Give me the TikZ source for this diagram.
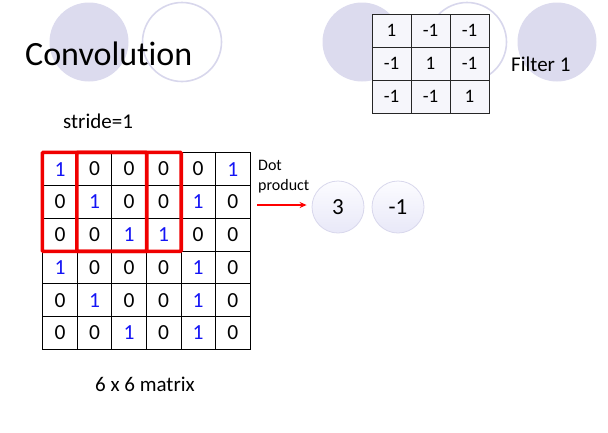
\documentclass[tikz,border=0pt]{standalone}
\usepackage{fontspec}
\setmainfont{Carlito}[Ligatures=NoCommon]
\usetikzlibrary{arrows.meta}
\definecolor{lav}{RGB}{220,219,238}
\definecolor{lavline}{RGB}{216,215,236}
\definecolor{filtfill}{RGB}{246,246,251}
\definecolor{blu}{RGB}{20,20,245}
\definecolor{redbox}{RGB}{240,0,0}
\tikzset{
  deco/.style={circle, minimum size=79pt, inner sep=0pt},
  decofill/.style={deco, fill=lav},
  decoring/.style={deco, draw=lavline, line width=1.6pt},
  gcell/.style={draw=black, line width=0.7pt, minimum width=34.55pt, minimum height=32.77pt, inner sep=0pt, font=\fontsize{21.5}{21.5}\selectfont},
  fcell/.style={draw=black!85, line width=0.7pt, fill=filtfill, minimum width=39pt, minimum height=33pt, inner sep=0pt, font=\fontsize{19}{19}\selectfont},
  outball/.style={circle, minimum size=52pt, inner sep=0pt, draw=lavline, line width=0.8pt,
     top color={rgb,255:red,252;green,252;blue,255}, bottom color={rgb,255:red,232;green,232;blue,248},
     font=\fontsize{23}{23}\selectfont},
  win/.style={draw=redbox, line width=3.6pt, rounded corners=1pt},
  lbl/.style={inner sep=0pt, anchor=base west}
}
\begin{document}
\begin{tikzpicture}[x=1pt,y=-1pt]
\useasboundingbox (0,0) rectangle (608,432);
% decorative circles
\node[decofill] (d1) at (89,42) {};
\node[decoring] (d2) at (182,42) {};
\node[decofill] (d3) at (362,42) {};
\node[decoring] (d4) at (467,42) {};
\node[decofill] (d5) at (557,42) {};
% title
\node[lbl, font=\fontsize{34}{34}\selectfont] (title) at (25,65) {Convolution};
\node[lbl, font=\fontsize{21}{21}\selectfont] (stride) at (63,128) {stride=1};
% filter
\foreach \r/\row in {0/{1,-1,-1},1/{-1,1,-1},2/{-1,-1,1}}{
  \foreach \v [count=\c from 0] in \row {
    \node[fcell] (f-\r-\c) at ({372+39*\c+19.5},{14+33*\r+16.5}) {\v};
  }
}
\node[lbl, font=\fontsize{21}{21}\selectfont] (filt) at (511,71) {Filter 1};
% image grid
\foreach \r/\row in {0/{1,0,0,0,0,1},1/{0,1,0,0,1,0},2/{0,0,1,1,0,0},3/{1,0,0,0,1,0},4/{0,1,0,0,1,0},5/{0,0,1,0,1,0}}{
  \foreach \v [count=\c from 0] in \row {
    \ifnum\v=1
      \node[gcell, text=blu] (g-\r-\c) at ({42.7+34.55*\c+17.275},{152.7+32.77*\r+16.385}) {\v};
    \else
      \node[gcell] (g-\r-\c) at ({42.7+34.55*\c+17.275},{152.7+32.77*\r+16.385}) {\v};
    \fi
  }
}
% red windows
\draw[win] (g-0-0.north west) rectangle (g-2-2.south east);
\draw[win] (g-0-1.north west) rectangle (g-2-3.south east);
% dot product
\node[lbl, font=\fontsize{16}{20}\selectfont, align=left, anchor=north west] (dot) at (258,160) {Dot\\product};
\node[outball] (o1) at (338,207) {3};
\node[outball] (o2) at (398,207) {-1};
\coordinate (as) at (257,205);
\draw[red, line width=1.4pt, -{Stealth[length=7pt,width=6pt]}] (as) -- (o1.west |- as) [shorten >=5pt];
\node[lbl, font=\fontsize{21}{21}\selectfont] (mat) at (95,391) {6 x 6 matrix};
\end{tikzpicture}
\end{document}
